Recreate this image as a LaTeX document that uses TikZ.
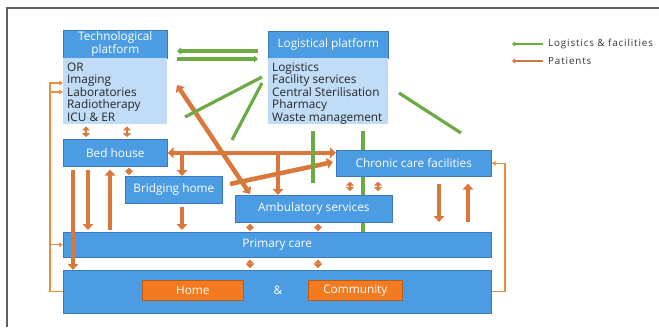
\documentclass[tikz,border=0pt]{standalone}
\usepackage{fontspec}
\setmainfont{Open Sans}
\newfontfamily\legendfont[LetterSpace=9]{Open Sans}
\usetikzlibrary{arrows.meta,calc}
\pgfdeclarelayer{background}
\pgfsetlayers{background,main}

\definecolor{boxblue}{RGB}{76,156,228}
\definecolor{boxedge}{RGB}{58,122,188}
\definecolor{paleblue}{RGB}{192,220,246}
\definecolor{homeorange}{RGB}{244,122,32}
\definecolor{logigreen}{RGB}{108,170,70}
\definecolor{flowbrown}{RGB}{217,120,58}
\definecolor{loopor}{RGB}{238,140,62}
\definecolor{framegray}{RGB}{95,95,95}

\tikzset{
  unit/.style={draw=boxedge, line width=0.6pt, fill=boxblue, text=white,
    inner sep=0pt, anchor=north west, align=center,
    font=\fontsize{11.8}{13}\selectfont},
  listbox/.style={fill=paleblue, inner sep=0pt, anchor=north west},
  listtext/.style={anchor=north west, inner sep=0pt, align=left,
    text=black!85, font=\fontsize{11.8}{12.5}\selectfont},
  placebox/.style={draw=homeorange!75!black, line width=0.6pt, fill=homeorange,
    text=white, inner sep=0pt, anchor=north west,
    font=\fontsize{11.8}{13}\selectfont},
  supply/.style={draw=logigreen, line width=3.2pt},
  supplytip/.style={-{Triangle[length=4pt,width=7pt]}},
  flow/.style={draw=flowbrown, line width=4.5pt, -{Triangle[length=6pt,width=10.5pt]}},
  flowboth/.style={draw=flowbrown, line width=4.5pt,
    {Triangle[length=6pt,width=10.5pt]}-{Triangle[length=6pt,width=10.5pt]}},
  nub/.style={draw=flowbrown, line width=2.5pt,
    {Triangle[length=4pt,width=8pt]}-{Triangle[length=4pt,width=8pt]}},
  loopline/.style={draw=loopor, line width=1.3pt},
  looptip/.style={-{Triangle[length=4pt,width=4.5pt]}},
}

\begin{document}
\begin{tikzpicture}[x=1pt,y=-1pt]
\useasboundingbox (0,0) rectangle (659,327);

% page frame
\draw[framegray, line width=1.2pt] (659,8) -- (7,8) -- (7,327);

% platforms
\node[unit, minimum width=104pt, minimum height=28pt] (techh) at (63,30) {Technological\\platform};
\node[listbox, minimum width=104pt, minimum height=66pt] (techb) at (63,58) {};
\node[listtext] (techl) at (67,62.5) {OR\\Imaging\\Laboratories\\Radiotherapy\\ICU \& ER};

\node[unit, minimum width=120pt, minimum height=27pt] (logh) at (268,31) {Logistical platform};
\node[listbox, minimum width=120pt, minimum height=66pt] (logb) at (268,58) {};
\node[listtext] (logl) at (272,62.5) {Logistics\\Facility services\\Central Sterilisation\\Pharmacy\\Waste management};

% care units
\node[unit, minimum width=104pt, minimum height=27pt] (bed) at (63,139) {Bed house};
\node[unit, minimum width=97pt, minimum height=27pt] (bridge) at (125,176) {Bridging home};
\node[unit, minimum width=157pt, minimum height=27pt] (amb) at (235,195) {Ambulatory services};
\node[unit, minimum width=155pt, minimum height=26pt] (chronic) at (336,150) {Chronic care facilities};
\node[unit, minimum width=428pt, minimum height=25pt] (primary) at (63,232) {Primary care};
\node[unit, minimum width=428pt, minimum height=43pt] (base) at (63,270) {};
\node[placebox, minimum width=101pt, minimum height=20pt] (home) at (142,280) {Home};
\node[text=white, font=\fontsize{11.8}{13}\selectfont, inner sep=0pt] (amp) at (278,290) {\&};
\node[placebox, minimum width=94pt, minimum height=20pt] (community) at (308,280) {Community};

% guide coordinates
\coordinate (lx) at (50,0);
\coordinate (rx) at (505,0);
\coordinate (lt) at (63,83);
\coordinate (lt2) at (63,92);
\coordinate (c73) at (73,0);
\coordinate (c88) at (88,0);
\coordinate (c110) at (110,0);
\coordinate (c182) at (182,0);
\coordinate (c278) at (278,0);
\coordinate (c439) at (439,0);
\coordinate (c468) at (468,0);
\coordinate (n86) at (86,0);
\coordinate (n127) at (127,0);
\coordinate (n129) at (129,0);
\coordinate (n250) at (250,0);
\coordinate (n318) at (318,0);
\coordinate (n350) at (350,0);
\coordinate (n378) at (378,0);
\coordinate (d1) at (177,85);
\coordinate (d2) at (250,194);
\coordinate (e1) at (230,184);
\coordinate (e2) at (333,162);
\coordinate (g1l) at (177,51);
\coordinate (g1r) at (258,51);
\coordinate (g2l) at (177,59);
\coordinate (g2r) at (258,59);
\coordinate (s1a) at (262,77);
\coordinate (s1b) at (185,117);
\coordinate (s2a) at (262,83);
\coordinate (s2b) at (232,140);
\coordinate (s3a) at (399,93);
\coordinate (s3b) at (461,133);
\coordinate (v1) at (313,183);
\coordinate (v2) at (363,0);

% supply line to primary care runs behind the care units
\begin{pgfonlayer}{background}
\draw[supply, shorten <=7pt] (logb.south -| v2) -- (primary.north -| v2);
\end{pgfonlayer}

% thin return loops
\draw[loopline, looptip] (base.west) -- (base.west -| lx) -- (lx |- lt) -- (lt);
\draw[loopline, looptip] (lx |- lt2) -- (lt2);
\draw[loopline, looptip] (lx |- primary.west) -- (primary.west);
\draw[loopline, looptip] (base.east) -- (base.east -| rx) -- (rx |- chronic.east) -- (chronic.east);

% patient flows
\draw[flowboth] (bed.east) -- (bed.east -| chronic.west);
\draw[flow] (c182 |- bed.east) -- (c182 |- bridge.north);
\draw[flow] (c278 |- bed.east) -- (c278 |- amb.north);
\draw[flow] (e1) -- (e2);
\draw[flowboth] (d1) -- (d2);
\draw[flow, shorten <=3pt] (bed.south -| c73) -- (base.north -| c73);
\draw[flow, shorten <=3pt, shorten >=2pt] (bed.south -| c88) -- (primary.north -| c88);
\draw[flow, shorten <=2pt, shorten >=3pt] (primary.north -| c110) -- (bed.south -| c110);
\draw[flow, shorten <=3pt, shorten >=2pt] (bridge.south -| c182) -- (primary.north -| c182);
\draw[flow, shorten <=7pt, shorten >=10pt] (chronic.south -| c439) -- (primary.north -| c439);
\draw[flow, shorten <=10pt, shorten >=7pt] (primary.north -| c468) -- (chronic.south -| c468);

% short two-way links
\draw[nub, shorten <=2pt, shorten >=2pt] (techb.south -| n86) -- (bed.north -| n86);
\draw[nub, shorten <=2pt, shorten >=2pt] (techb.south -| n127) -- (bed.north -| n127);
\draw[nub, shorten <=1pt, shorten >=1pt] (bed.south -| n129) -- (bridge.north -| n129);
\draw[nub, shorten <=5pt, shorten >=4pt] (chronic.south -| n350) -- (amb.north -| n350);
\draw[nub, shorten <=5pt, shorten >=4pt] (chronic.south -| n378) -- (amb.north -| n378);
\draw[nub, shorten <=1pt, shorten >=1pt] (amb.south -| n250) -- (primary.north -| n250);
\draw[nub, shorten <=1pt, shorten >=1pt] (amb.south -| n318) -- (primary.north -| n318);
\draw[nub, shorten <=2pt, shorten >=2pt] (primary.south -| n250) -- (base.north -| n250);
\draw[nub, shorten <=2pt, shorten >=2pt] (primary.south -| n318) -- (base.north -| n318);

% logistics and facilities
\draw[supply, supplytip] (g1r) -- (g1l);
\draw[supply, supplytip] (g2l) -- (g2r);
\draw[supply] (s1a) -- (s1b);
\draw[supply] (s2a) -- (s2b);
\draw[supply] (s3a) -- (s3b);
\draw[supply, shorten <=7pt] (logb.south -| v1) -- (v1);

% legend
\coordinate (lg0) at (512,44);
\coordinate (lg1) at (543,44);
\coordinate (lp0) at (512,61);
\coordinate (lp1) at (543,61);
\draw[supply, line width=2.4pt, -{Triangle[length=3pt,width=5pt]}] (lg1) -- (lg0);
\draw[draw=flowbrown!85!gray, line width=2.4pt, -{Triangle[length=3pt,width=5pt]}] (lp1) -- (lp0);
\node[anchor=west, inner sep=0pt, text=black!80, font=\legendfont\fontsize{9.8}{11}\selectfont] (lgt) at (548,44) {Logistics \& facilities};
\node[anchor=west, inner sep=0pt, text=black!80, font=\legendfont\fontsize{9.8}{11}\selectfont] (lpt) at (548,61) {Patients};
\end{tikzpicture}
\end{document}
